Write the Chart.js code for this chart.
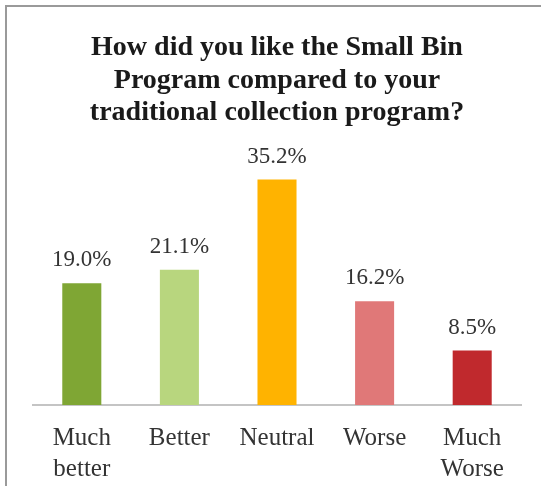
<!DOCTYPE html>
<html>
<head>
<meta charset="utf-8">
<script src="https://cdn.jsdelivr.net/npm/chart.js@4"></script>
<style>
    html, body { margin: 0; padding: 0; background: #ffffff; }
    #wrap { width: 541px; height: 486px; position: relative; }
</style>
</head>
<body>
<div id="wrap"><canvas id="binChart"></canvas></div>
<script>
// Survey answers and their shares (%)
const answers = [['Much', 'better'], 'Better', 'Neutral', 'Worse', ['Much', 'Worse']];
const shares = [19.0, 21.1, 35.2, 16.2, 8.5];
const barColors = ['#7fa634', '#b8d67e', '#ffb300', '#e07878', '#c0292d'];

const serif = '"Liberation Serif", "Times New Roman", serif';

// Thin gray frame along the top and left edge
const framePlugin = {
    id: 'frame',
    beforeDraw(chart) {
        const ctx = chart.ctx;
        ctx.save();
        ctx.fillStyle = '#ffffff';
        ctx.fillRect(0, 0, chart.width, chart.height);
        ctx.strokeStyle = '#9a9a9a';
        ctx.lineWidth = 2;
        ctx.beginPath();
        ctx.moveTo(6, chart.height);
        ctx.lineTo(6, 6);
        ctx.lineTo(chart.width, 6);
        ctx.stroke();
        ctx.restore();
    }
};

// Percentage printed above each bar
const valueLabels = {
    id: 'valueLabels',
    afterDatasetsDraw(chart) {
        const ctx = chart.ctx;
        const meta = chart.getDatasetMeta(0);
        ctx.save();
        ctx.font = '23px ' + serif;
        ctx.fillStyle = '#333333';
        ctx.textAlign = 'center';
        ctx.textBaseline = 'alphabetic';
        meta.data.forEach((bar, i) => {
            ctx.fillText(shares[i].toFixed(1) + '%', bar.x, bar.y - 17);
        });
        ctx.restore();
    }
};

new Chart(document.getElementById('binChart').getContext('2d'), {
    type: 'bar',
    data: {
        labels: answers,
        datasets: [{
            data: shares,
            backgroundColor: barColors,
            barPercentage: 0.4,
            categoryPercentage: 1.0
        }]
    },
    options: {
        responsive: true,
        maintainAspectRatio: false,
        animation: false,
        layout: { padding: { left: 33, right: 20, top: 0, bottom: 0 } },
        plugins: {
            legend: { display: false },
            tooltip: { enabled: false },
            title: {
                display: true,
                text: ['How did you like the Small Bin', 'Program compared to your', 'traditional collection program?'],
                color: '#1a1a1a',
                font: { family: serif, size: 28, weight: 'bold', lineHeight: 1.15 },
                padding: { top: 32, bottom: 17 }
            }
        },
        scales: {
            x: {
                grid: { display: false, drawTicks: false },
                border: { display: true, color: '#c4c4c4', width: 2 },
                ticks: {
                    color: '#333333',
                    padding: 18,
                    maxRotation: 0,
                    autoSkip: false,
                    font: { family: serif, size: 25, lineHeight: 1.24 }
                },
                // fixed band below the axis line for the two-line labels
                afterFit(scale) {
                    scale.height = 81;
                }
            },
            y: {
                display: false,
                min: 0,
                max: 40.5
            }
        }
    },
    plugins: [framePlugin, valueLabels]
});
</script>
</body>
</html>
